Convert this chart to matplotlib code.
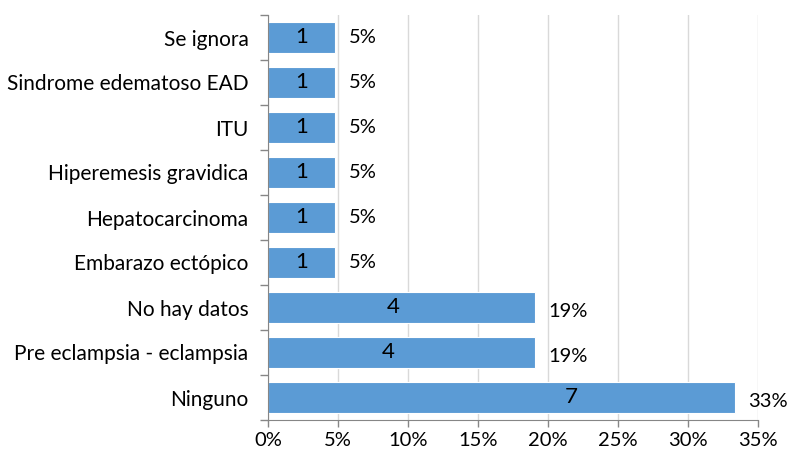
import matplotlib
matplotlib.use("Agg")
import matplotlib.pyplot as plt
import numpy as np

categories = ["Ninguno", "Pre eclampsia - eclampsia", "No hay datos", "Embarazo ectópico",
              "Hepatocarcinoma", "Hiperemesis gravidica", "ITU", "Sindrome edematoso EAD", "Se ignora"]
counts = [7, 4, 4, 1, 1, 1, 1, 1, 1]
pct_labels = ["33%", "19%", "19%", "5%", "5%", "5%", "5%", "5%", "5%"]
# where the count label sits along each bar (fraction of bar length), as in the original
count_label_frac = [0.65, 0.45, 0.47, 0.5, 0.5, 0.5, 0.5, 0.5, 0.5]
total = sum(counts)
shares = [c / total * 100 for c in counts]
xticks = [0, 5, 10, 15, 20, 25, 30, 35]

plt.rcParams['font.family'] = ['Lato', 'DejaVu Sans']

fig = plt.figure(figsize=(7.88, 4.57), dpi=100)
ax = fig.add_axes([268/788, 1 - 420/457, (758-268)/788, (420-15)/457])

y = np.arange(len(categories))
ax.barh(y, shares, height=0.67, color="#5B9BD5", edgecolor="white", linewidth=0.8, zorder=3)
ax.set_xlim(0, 35)
ax.set_ylim(-0.5, len(categories) - 0.5)
ax.set_xticks(xticks)
ax.set_xticklabels([f"{t}%" for t in xticks], fontsize=14.5)
ax.set_yticks(y)
ax.set_yticklabels(categories, fontsize=15)
ax.tick_params(axis='y', length=0, pad=14)
ax.set_yticks(np.arange(-0.5, len(categories), 1), minor=True)
ax.tick_params(axis='y', which='minor', length=6, color="#868686", width=1)
ax.tick_params(axis='x', length=5, color="#868686", width=1, pad=4)
ax.grid(axis='x', color="#D9D9D9", linewidth=1, zorder=0)
for s in ['top', 'right']:
    ax.spines[s].set_visible(False)
for s in ['left', 'bottom']:
    ax.spines[s].set_color("#868686")
    ax.spines[s].set_zorder(4)

for yi, v, c, p, f in zip(y, shares, counts, pct_labels, count_label_frac):
    ax.text(v * f, yi + 0.02, str(c), ha='center', va='center', fontsize=16, zorder=5)
    ax.annotate(p, (v, yi), xytext=(10, -3 if v > 10 else 0), textcoords='offset points',
                ha='left', va='center', fontsize=14.5)

fig.savefig("out.png", dpi=100)
